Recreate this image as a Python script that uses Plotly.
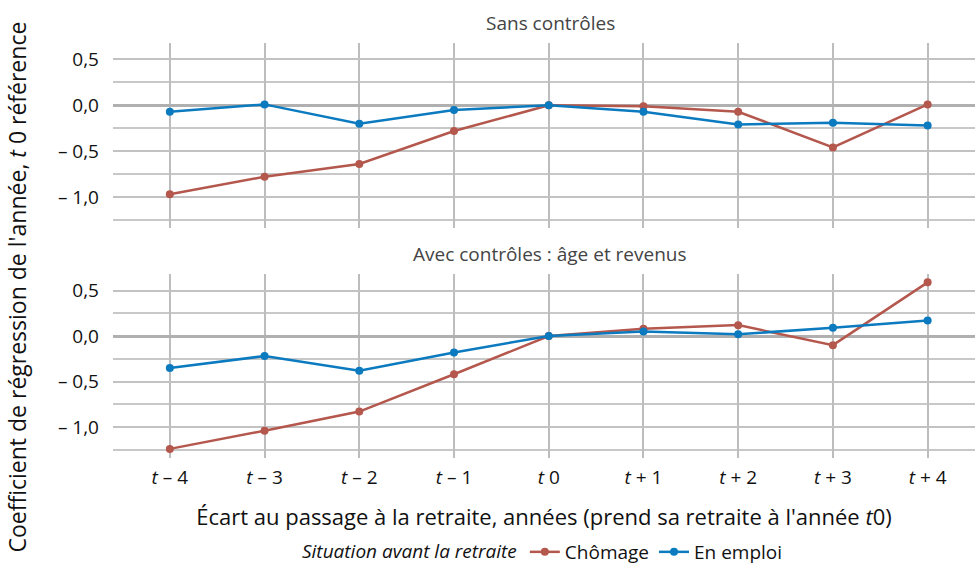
import plotly.graph_objects as go

# Years relative to retirement (t0 = year of retirement)
offsets = [-4, -3, -2, -1, 0, 1, 2, 3, 4]
offset_labels = ["<i>t</i> – 4", "<i>t</i> – 3", "<i>t</i> – 2", "<i>t</i> – 1", "<i>t</i> 0",
                 "<i>t</i> + 1", "<i>t</i> + 2", "<i>t</i> + 3", "<i>t</i> + 4"]

# Regression coefficients, no controls
sans_chomage = [-0.97, -0.78, -0.64, -0.28, 0.0, -0.01, -0.07, -0.46, 0.01]
sans_emploi = [-0.07, 0.01, -0.20, -0.05, 0.0, -0.07, -0.21, -0.19, -0.22]

# Regression coefficients, controlling for age and income
avec_chomage = [-1.24, -1.04, -0.83, -0.42, 0.0, 0.08, 0.12, -0.10, 0.59]
avec_emploi = [-0.35, -0.22, -0.38, -0.18, 0.0, 0.05, 0.02, 0.09, 0.17]

y_ticks = [0.5, 0.0, -0.5, -1.0]
y_tick_labels = ["0,5", "0,0", "– 0,5", "– 1,0"]

RED = "#b4574d"
BLUE = "#0b7abf"
FONT = "Open Sans"
TXT = "#111111"

fig = go.Figure()

panels = [
    ("y", "x", sans_chomage, sans_emploi, True),
    ("y2", "x2", avec_chomage, avec_emploi, False),
]
for yaxis, xaxis, chom, empl, show in panels:
    fig.add_trace(go.Scatter(
        x=offsets, y=chom, xaxis=xaxis, yaxis=yaxis,
        mode="lines+markers", name="Chômage", legendgroup="c", showlegend=show,
        line=dict(color=RED, width=2.5), marker=dict(color=RED, size=8),
    ))
    fig.add_trace(go.Scatter(
        x=offsets, y=empl, xaxis=xaxis, yaxis=yaxis,
        mode="lines+markers", name="En emploi", legendgroup="e", showlegend=show,
        line=dict(color=BLUE, width=2.5), marker=dict(color=BLUE, size=8),
    ))

x_common = dict(
    range=[-4.6, 4.5], tickmode="array", tickvals=offsets, ticktext=offset_labels,
    showgrid=True, gridcolor="#bdbdbd", gridwidth=2, zeroline=False,
    showline=False, ticks="", automargin=False, ticklabelstandoff=6,
    tickfont=dict(family=FONT, size=19, color=TXT),
)
y_common = dict(
    range=[-1.34, 0.68], tickmode="array", tickvals=y_ticks, ticktext=y_tick_labels,
    showgrid=True, gridcolor="#c2c2c2", gridwidth=2,
    zeroline=True, zerolinecolor="#b0b0b0", zerolinewidth=3,
    minor=dict(tickvals=[0.25, -0.25, -0.75, -1.25], showgrid=True,
               gridcolor="#c8c8c8", gridwidth=1.5),
    showline=False, ticks="", ticklabelstandoff=13, automargin=False,
    tickfont=dict(family=FONT, size=19, color=TXT),
)

fig.update_layout(
    width=975, height=567,
    margin=dict(l=113, r=0, t=43, b=109, autoexpand=False),
    plot_bgcolor="white", paper_bgcolor="white",
    font=dict(family=FONT, color=TXT),
    xaxis=dict(x_common, domain=[0, 1], anchor="y", showticklabels=False),
    xaxis2=dict(x_common, domain=[0, 1], anchor="y2", showticklabels=True,
                title=dict(text="Écart au passage à la retraite, années (prend sa retraite à l'année <i>t</i>0)",
                           font=dict(family=FONT, size=22, color=TXT), standoff=20)),
    yaxis=dict(y_common, domain=[0.554, 1.0], anchor="x"),
    yaxis2=dict(y_common, domain=[0.0, 0.443], anchor="x2"),
    legend=dict(
        orientation="h", x=0.5, xanchor="center", y=-0.2265, yanchor="middle",
        itemwidth=30,
        title=dict(text="<i>Situation avant la retraite</i>", font=dict(family=FONT, size=19, color=TXT)),
        font=dict(family=FONT, size=19, color=TXT),
    ),
    annotations=[
        dict(text="Sans contrôles", xref="paper", yref="paper", x=0.507, y=1.0,
             yanchor="middle", yshift=20, showarrow=False,
             font=dict(family=FONT, size=19, color="#444")),
        dict(text="Avec contrôles : âge et revenus", xref="paper", yref="paper", x=0.507, y=0.443,
             yanchor="middle", yshift=20, showarrow=False,
             font=dict(family=FONT, size=19, color="#444")),
        dict(text="Coefficient de régression de l'année, <i>t</i> 0 référence",
             xref="paper", yref="paper", x=0, xanchor="center", xshift=-97,
             y=0.5, yanchor="middle", yshift=-37, textangle=-90,
             showarrow=False, font=dict(family=FONT, size=23, color=TXT)),
    ],
)

fig.write_html("out.html")
